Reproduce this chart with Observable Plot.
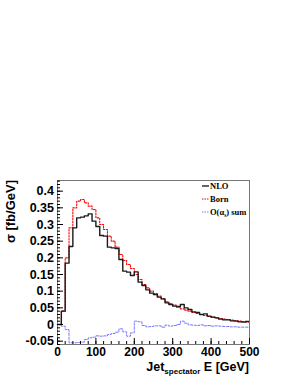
<!DOCTYPE html>
<html><head><meta charset="utf-8">
<script src="https://cdn.jsdelivr.net/npm/d3@7"></script>
<script src="https://cdn.jsdelivr.net/npm/@observablehq/plot@0.6"></script>
<style>body{margin:0;background:#fff} svg{display:block}</style>
</head><body><div id="chart"></div>
<script>
// bin low edges (GeV), 10 GeV bins
const binLow = [0,10,20,30,40,50,60,70,80,90,100,110,120,130,140,150,160,170,180,190,200,210,220,230,240,250,260,270,280,290,300,310,320,330,340,350,360,370,380,390,400,410,420,430,440,450,460,470,480,490];
const nlo = [0.0,0.04,0.184,0.234,0.29,0.32,0.322,0.326,0.332,0.31,0.294,0.267,0.265,0.232,0.23,0.228,0.195,0.16,0.157,0.147,0.158,0.127,0.117,0.104,0.094,0.09,0.082,0.077,0.065,0.06,0.055,0.054,0.06,0.05,0.045,0.038,0.036,0.03,0.032,0.025,0.022,0.02,0.016,0.014,0.014,0.011,0.01,0.008,0.007,0.009];
const born = [0.0,0.04,0.2,0.29,0.35,0.37,0.375,0.365,0.355,0.345,0.32,0.3,0.285,0.265,0.25,0.232,0.21,0.192,0.18,0.168,0.15,0.135,0.12,0.11,0.1,0.093,0.085,0.077,0.068,0.062,0.058,0.052,0.047,0.043,0.04,0.036,0.033,0.03,0.027,0.024,0.022,0.02,0.018,0.016,0.015,0.013,0.012,0.01,0.009,0.008];
const alphaSum = [0.0,-0.005,-0.015,-0.055,-0.055,-0.054,-0.053,-0.045,-0.04,-0.038,-0.034,-0.035,-0.034,-0.03,-0.027,-0.023,-0.013,-0.022,-0.035,-0.025,0.01,0.008,-0.003,-0.007,-0.006,-0.004,-0.004,-0.008,-0.002,-0.005,-0.003,0.0,0.01,0.004,-0.001,-0.002,-0.003,-0.001,-0.004,-0.003,-0.005,-0.004,-0.005,-0.006,-0.006,-0.007,-0.007,-0.008,-0.008,-0.008];
const xEnd = 500;
const xTicks = [0,100,200,300,400,500];
const yTicks = [-0.05,0,0.05,0.1,0.15,0.2,0.25,0.3,0.35,0.4];
const xMinor = d3.range(0, 501, 20);
const yMinor = d3.range(-6, 44, 1).map(d => d / 100);
const legendLabels = ["NLO", "Born", "O(α", "s", ") sum"];

const steps = vals => binLow.map((x, i) => ({x, y: vals[i]})).concat([{x: xEnd, y: vals[vals.length - 1]}]);
const yFmt = d => String(+d.toFixed(2));

const svg = Plot.plot({
  width: 291, height: 376,
  marginLeft: 57, marginRight: 42, marginTop: 180, marginBottom: 32,
  x: {domain: [0, 500]},
  y: {domain: [-0.06, 0.432]},
  style: {fontFamily: "'Liberation Sans', Arial, sans-serif", background: "#fff", color: "#000"},
  marks: [
    Plot.line(steps(alphaSum), {x: "x", y: "y", curve: "step-after", stroke: "#7a7aff", strokeWidth: 1, strokeDasharray: "2.5,1.5"}),
    Plot.line(steps(born), {x: "x", y: "y", curve: "step-after", stroke: "#ff0000", strokeWidth: 1.1, strokeDasharray: "1.5,1.5"}),
    Plot.line(steps(nlo), {x: "x", y: "y", curve: "step-after", stroke: "#1a1a1a", strokeWidth: 1.4}),
    Plot.frame({stroke: "#777", strokeWidth: 1}),
    Plot.axisX(xMinor, {tickSize: -3, tickFormat: () => "", label: null}),
    Plot.axisX(xTicks, {tickSize: -6, tickFormat: () => "", label: null}),
    Plot.axisX(xTicks, {tickSize: 0, tickPadding: 3, fontSize: 12, fontWeight: "bold", label: null}),
    Plot.axisY(yMinor, {tickSize: -3, tickFormat: () => "", label: null}),
    Plot.axisY(yTicks, {tickSize: -6, tickFormat: () => "", label: null}),
    Plot.axisY(yTicks, {tickSize: 0, tickPadding: 3.5, fontSize: 12.5, fontWeight: "bold", tickFormat: yFmt, label: null})
  ]
});

const s = d3.select(svg);
// Y title
s.append("text")
  .attr("transform", "translate(15,180) rotate(-90)")
  .attr("text-anchor", "end")
  .attr("font-family", "'Liberation Sans', Arial, sans-serif")
  .attr("font-weight", "bold").attr("font-size", 13)
  .text("σ [fb/GeV]");
// X title
const xt = s.append("text")
  .attr("x", 249).attr("y", 370.5)
  .attr("text-anchor", "end")
  .attr("font-family", "'Liberation Sans', Arial, sans-serif")
  .attr("font-weight", "bold").attr("font-size", 12.5);
xt.append("tspan").text("Jet");
xt.append("tspan").attr("font-size", 8).attr("dy", 3).text("spectator");
xt.append("tspan").attr("dy", -3).text(" E [GeV]");

// Legend
const legend = [
  {stroke: "#111", dash: null, w: 1.3},
  {stroke: "#ff0000", dash: "1.5,1", w: 1},
  {stroke: "#7a7aff", dash: "1.5,1", w: 1}
];
const ly = [186, 199, 212];
legend.forEach((d, i) => {
  s.append("line").attr("x1", 202).attr("x2", 209).attr("y1", ly[i]).attr("y2", ly[i])
    .attr("stroke", d.stroke).attr("stroke-width", d.w).attr("stroke-dasharray", d.dash);
  const t = s.append("text").attr("x", 210).attr("y", ly[i] + 3)
    .attr("text-anchor", "start")
    .attr("font-family", "'Liberation Serif', 'Times New Roman', serif")
    .attr("font-weight", "bold").attr("font-size", 8.5);
  if (i === 2) {
    t.append("tspan").text(legendLabels[2]);
    t.append("tspan").attr("font-size", 5.5).attr("dy", 1.5).text(legendLabels[3]);
    t.append("tspan").attr("dy", -1.5).text(legendLabels[4]);
  } else {
    t.text(legendLabels[i]);
  }
});

document.getElementById("chart").appendChild(svg);
</script>
</body></html>
